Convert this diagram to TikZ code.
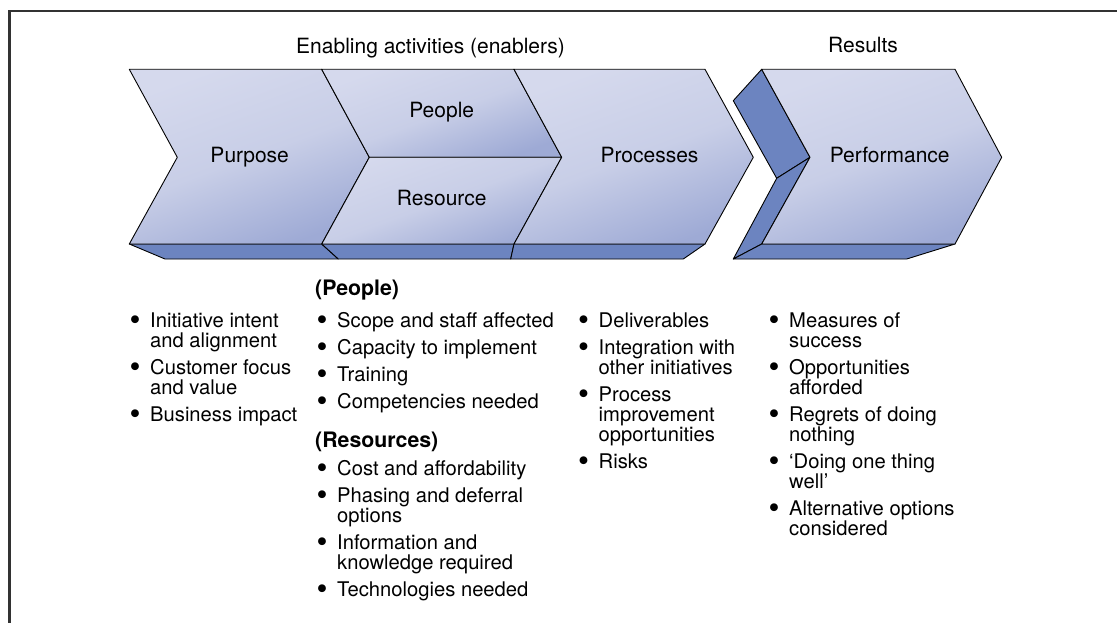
\documentclass[tikz,border=0pt]{standalone}
\usepackage{fontspec}
\usepackage{graphicx}
\setmainfont{TeX Gyre Heros}
\definecolor{chevlight}{RGB}{213,217,237}
\definecolor{chevmid}{RGB}{200,206,231}
\definecolor{chevdark}{RGB}{158,170,213}
\definecolor{chevside}{RGB}{108,132,192}
\definecolor{framegray}{RGB}{50,50,50}
% one bullet entry of a list
\newcommand{\pitem}[1]{\par\hangindent=30pt\hangafter=1\noindent\makebox[30pt][c]{\smash{\raisebox{-3pt}{\scalebox{1.55}{\textbullet}}}}#1}
% a whole list, first baseline at the node's base
\newcommand{\plist}[1]{\parbox[t]{300pt}{\setlength{\parskip}{7.1pt}#1}}
\begin{document}
\begin{tikzpicture}[x=1pt, y=-1pt,
    chev/.style={draw=black, line width=0.9pt, line join=round, top color=chevlight, bottom color=chevdark, middle color=chevmid, shading angle=20},
    side/.style={draw=black, line width=0.9pt, line join=round, fill=chevside},
    lbl/.style={font=\fontsize{21pt}{24pt}\selectfont, anchor=base, inner sep=0pt},
    hdr/.style={font=\fontsize{21.3pt}{22pt}\selectfont\bfseries, anchor=base west, inner sep=0pt},
    lst/.style={font=\fontsize{20.2pt}{20pt}\selectfont, anchor=base west, inner sep=0pt}]
    \useasboundingbox (0,0) rectangle (1117,623);
    \clip (0,0) rectangle (1117,623);

    % Marco exterior
    \draw[framegray, line width=2.3pt] (9.5,11) rectangle (1140,650);

    % Caras inferiores y laterales (efecto 3D)
    \draw[side] (129.3,244) -- (321.7,244) -- (338.3,259) -- (165,259) -- cycle;
    \draw[side] (321.7,244) -- (514,244) -- (510.7,259) -- (338.3,259) -- cycle;
    \draw[side] (514,244) -- (705,244) -- (683.3,259) -- (510.7,259) -- cycle;
    \draw[side] (761.7,69.3) -- (733.3,100.7) -- (776.7,178.3) -- (810,157.3) -- cycle;
    \draw[side] (776.7,178.3) -- (810,157.3) -- (761.7,244) -- (733.3,259) -- cycle;
    \draw[side] (761.7,244) -- (955,244) -- (906.7,259) -- (733.3,259) -- cycle;

    % Flechas (chevrons)
    \path[chev] (129.3,69.3) -- (321.7,69.3) -- (369.3,157.3) -- (321.7,244) -- (129.3,244) -- (177.3,157.3) -- cycle;
    \path[chev] (321.7,69.3) -- (514,69.3) -- (561.7,157.3) -- (369.3,157.3) -- cycle;
    \path[chev] (369.3,157.3) -- (561.7,157.3) -- (514,244) -- (321.7,244) -- cycle;
    \path[chev] (514,69.3) -- (705,69.3) -- (753.3,157.3) -- (705,244) -- (514,244) -- (561.7,157.3) -- cycle;
    \path[chev] (761.7,69.3) -- (955,69.3) -- (1001.7,157.3) -- (955,244) -- (761.7,244) -- (810,157.3) -- cycle;

    % Titulos
    \node[lbl] (enablers) at (430.5,54) {Enabling activities (enablers)};
    \node[lbl] (results) at (863,53) {Results};
    \node[lbl] (purpose) at (249.7,162.7) {Purpose};
    \node[lbl] (people) at (441.7,117.3) {People};
    \node[lbl] (resource) at (441.7,205) {Resource};
    \node[lbl] (processes) at (649.5,162.7) {Processes};
    \node[lbl] (performance) at (889.7,162.7) {Performance};

    % Listas
    \node[lst] (purposelist) at (120,327.3) {\plist{%
        \pitem{Initiative intent\\and alignment}
        \pitem{Customer focus\\and value}
        \pitem{Business impact}}};
    \node[hdr] (peoplehdr) at (315,295) {(People)};
    \node[lst] (peoplelist) at (307,327.3) {\plist{%
        \pitem{Scope and staff affected}
        \pitem{Capacity to implement}
        \pitem{Training}
        \pitem{Competencies needed}}};
    \node[hdr] (resourcehdr) at (315,447) {(Resources)};
    \node[lst] (resourcelist) at (307,475.5) {\plist{%
        \pitem{Cost and affordability}
        \pitem{Phasing and deferral\\options}
        \pitem{Information and\\knowledge required}
        \pitem{Technologies needed}}};
    \node[lst] (processlist) at (568.5,327.3) {\plist{%
        \pitem{Deliverables}
        \pitem{Integration with\\other initiatives}
        \pitem{Process\\improvement\\opportunities}
        \pitem{Risks}}};
    \node[lst] (performancelist) at (759,327.3) {\plist{%
        \pitem{Measures of\\success}
        \pitem{Opportunities\\afforded}
        \pitem{Regrets of doing\\nothing}
        \pitem{`Doing one thing\\well'}
        \pitem{Alternative options\\considered}}};
\end{tikzpicture}
\end{document}
